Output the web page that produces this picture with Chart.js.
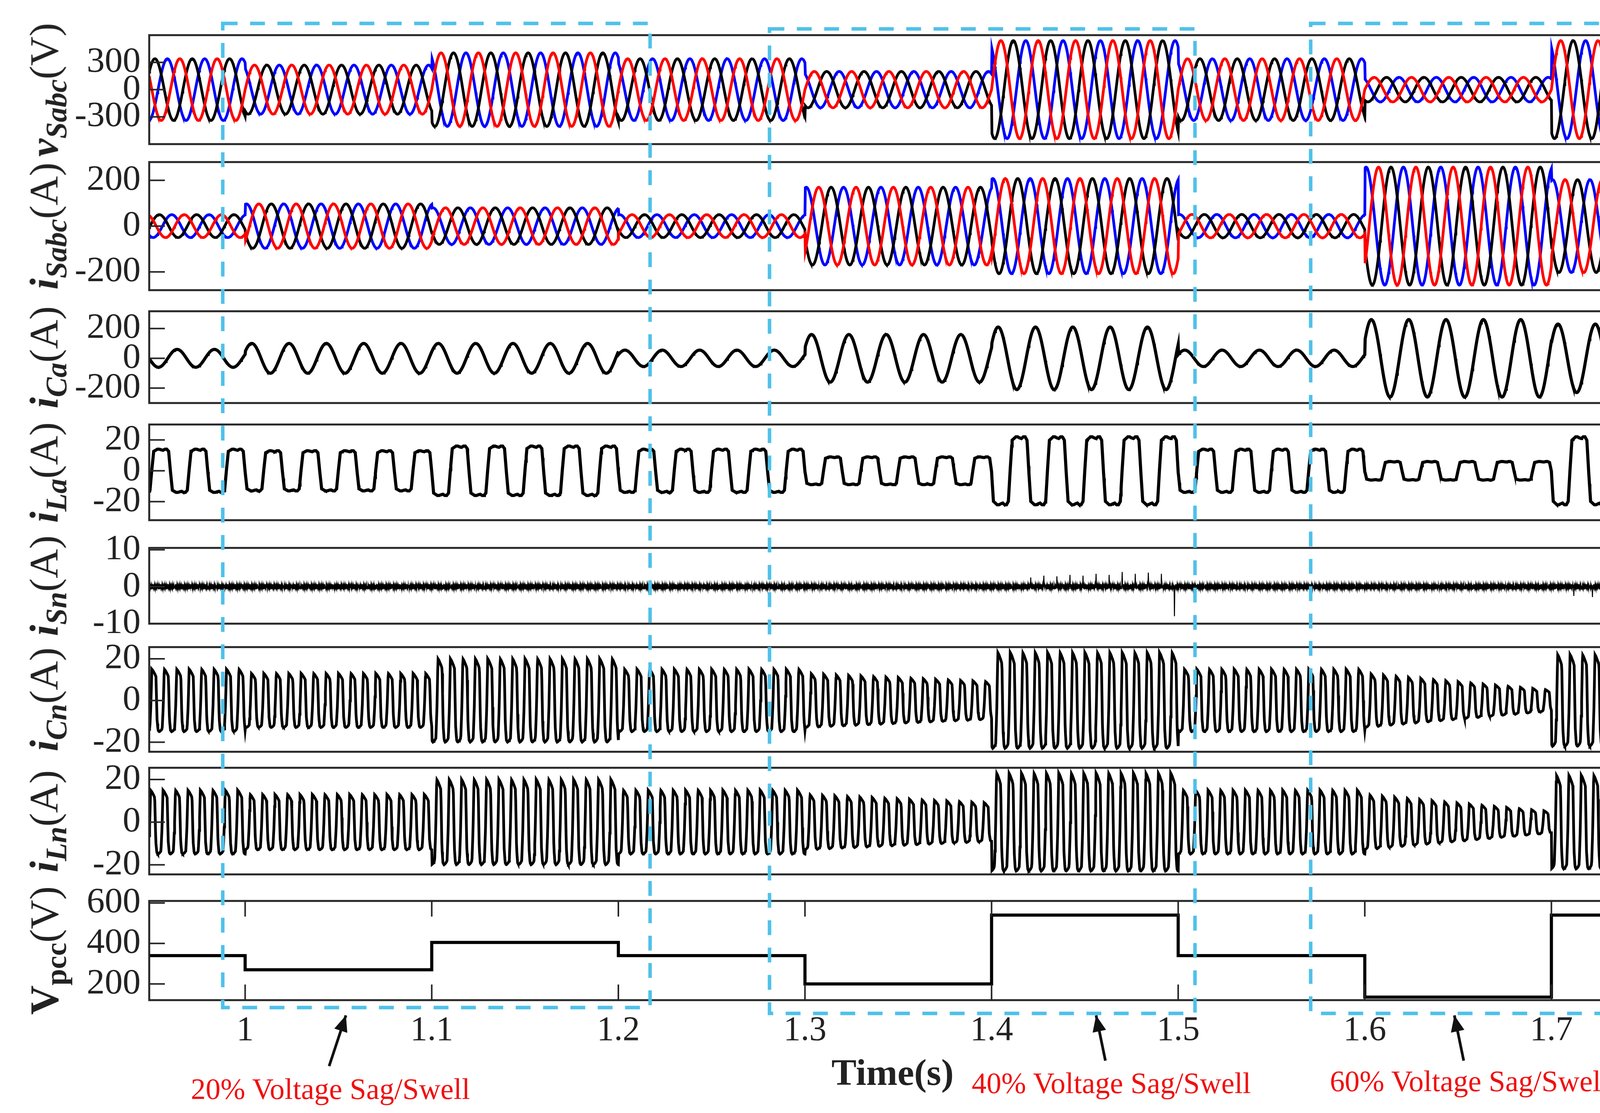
<!DOCTYPE html>
<html><head><meta charset="utf-8">
<script src="https://cdn.jsdelivr.net/npm/chart.js@4.4.1/dist/chart.umd.min.js"></script>
<style>
body{margin:0;background:#fff;width:4259px;height:2850px;position:relative;overflow:hidden;font-family:"Liberation Serif",serif}
canvas{position:absolute}
.yl{position:absolute;transform:translate(-50%,-50%) rotate(-90deg);white-space:nowrap;font-size:104px;color:#222;font-family:"Liberation Serif",serif}
.yl b{font-style:italic}
.yl sub{font-size:76px;font-weight:bold;font-style:italic}
.rt{position:absolute;transform:translateX(-50%);color:#f01010;font-size:76px;white-space:nowrap;font-family:"Liberation Serif",serif}
</style></head><body>
<script>
// ---- data ----
const segEdges = [0.9486,1.0,1.1,1.2,1.3,1.4,1.5,1.6,1.7,1.75];
const vpccLevels = [340,270,405,340,200,540,340,135,540];
const vSabcAmp = [340,270,405,340,200,540,340,135,540];
const iSabcAmp = [50,97,80,50,170,208,51,258,203];
const iCaAmp = [60,100,100,55,160,210,55,260,230];
const iLaAmp = [14,13,16,14,9,22,14,6,22];
const iCnStart = [15,13,20,15,13,23,15,13,22];
const iCnEnd = [15,13,20,15,9,23,15,5,22];
const iLnStart = [15,13,20,15,13,23,15,13,22];
const iLnEnd = [15,13,20,15,9,23,15,5,22];
const iLaShape = [0.05,0.9,0.95,1.0,1.0,0.97,0.95,1.0,1.0,0.9,-0.05,-0.9,-0.95,-1,-1,-0.97,-0.95,-1,-1,-0.9];
const iNShape = [1.0,0.96,0.9,0.84,0.76,-0.6,-0.95,-1.0,-0.98,-0.95,-0.9,-0.2];
const iSnNoise = [0.4,-0.3,0.6,-0.5,0.2,-0.7,0.5,-0.2,0.3,-0.6,0.7,-0.4,0.1,-0.5,0.6,-0.3,0.45,-0.65,0.25,-0.35];
const iSnSpikes = [[1.421,2.5],[1.428,3],[1.435,2.8],[1.442,3.2],[1.449,3],[1.456,3.5],[1.463,3.2],[1.47,4],[1.477,3.5],[1.484,3.8],[1.491,3.5],[1.498,-8],[1.712,-2.5],[1.722,-2.8],[1.735,-2.6],[1.742,3]];
const xTicks = [1,1.1,1.2,1.3,1.4,1.5,1.6,1.7];
const f0 = 50, f3 = 150, dt = 0.0002;
const xMin = 0.9486, xMax = 1.743;

function seg(t){for(let i=0;i<segEdges.length-2;i++){if(t<segEdges[i+1])return i;}return segEdges.length-2;}
function frac(t,i){return (t-segEdges[i])/(segEdges[i+1]-segEdges[i]);}
function shapeAt(sh,ph){ph=((ph%1)+1)%1;const p=ph*sh.length;const k=Math.floor(p),r=p-k;return sh[k]*(1-r)+sh[(k+1)%sh.length]*r;}
const T=[];for(let t=xMin;t<=xMax;t+=dt)T.push(t);
const mk=fn=>T.map(t=>({x:t,y:fn(t)}));
const W=2*Math.PI*f0;
const ph=[0,-2*Math.PI/3,2*Math.PI/3];
const vS=ph.map(p=>mk(t=>vSabcAmp[seg(t)]*Math.sin(W*(t-0.95)+Math.PI+p)));
const iS=ph.map(p=>mk(t=>iSabcAmp[seg(t)]*Math.sin(W*(t-0.95)+2.4+p)));
const iCa=mk(t=>iCaAmp[seg(t)]*Math.sin(W*(t-0.95)+3.6));
const iLa=mk(t=>iLaAmp[seg(t)]*shapeAt(iLaShape,(t-0.95)*f0));
const iSn=T.map((t,k)=>{let y=iSnNoise[k%iSnNoise.length];for(const s of iSnSpikes){if(Math.abs(t-s[0])<dt*0.6)y=s[1];}return {x:t,y};});
const ramp=(a,b)=>t=>{const i=seg(t),r=Math.min(1,Math.max(0,frac(t,i)));return a[i]+(b[i]-a[i])*r;};
const cA=ramp(iCnStart,iCnEnd), lA=ramp(iLnStart,iLnEnd);
const iCn=mk(t=>cA(t)*shapeAt(iNShape,(t-0.95)*f3));
const iLn=mk(t=>lA(t)*shapeAt(iNShape,(t-0.95)*f3+0.1));
const vp=[];for(let i=0;i<vpccLevels.length;i++){vp.push({x:Math.max(segEdges[i],xMin),y:vpccLevels[i]});vp.push({x:Math.min(segEdges[i+1],xMax),y:vpccLevels[i]});}

// ---- layout ----
const L=382,R=4177;
const panels=[
 {top:90,bot:369,min:-600,max:600,ticks:[-300,0,300],ds:[[vS[0],'#ff0000'],[vS[1],'#000'],[vS[2],'#0000ff']],lw:7,lab:'<b>v</b><sub>Sabc</sub>(V)'},
 {top:415,bot:743,min:-280,max:280,ticks:[-200,0,200],ds:[[iS[0],'#ff0000'],[iS[1],'#000'],[iS[2],'#0000ff']],lw:7,lab:'<b>i</b><sub>Sabc</sub>(A)'},
 {top:797,bot:1032,min:-300,max:316,ticks:[-200,0,200],ds:[[iCa,'#000']],lw:8,lab:'<b>i</b><sub>Ca</sub>(A)'},
 {top:1087,bot:1332,min:-32,max:30,ticks:[-20,0,20],ds:[[iLa,'#000']],lw:8,lab:'<b>i</b><sub>La</sub>(A)'},
 {top:1403,bot:1597,min:-10,max:10.5,ticks:[-10,0,10],ds:[[iSn,'#000']],lw:2.5,lab:'<b>i</b><sub>Sn</sub>(A)'},
 {top:1657,bot:1925,min:-24.6,max:25.6,ticks:[-20,0,20],ds:[[iCn,'#000']],lw:7,lab:'<b>i</b><sub>Cn</sub>(A)'},
 {top:1966,bot:2239,min:-24.5,max:25.5,ticks:[-20,0,20],ds:[[iLn,'#000']],lw:7,lab:'<b>i</b><sub>Ln</sub>(A)'},
 {top:2307,bot:2561,min:120,max:610,ticks:[200,400,600],ds:[[vp,'#000']],lw:8,lab:'<b style="font-style:normal">V</b><sub style="font-style:normal">pcc</sub>(V)',last:true}
];
const PAD=70,XH=150;
const frame={id:'frame',afterDraw(c){const a=c.chartArea,x=c.ctx;x.save();x.strokeStyle='#262626';x.lineWidth=5;
 x.strokeRect(a.left,a.top,a.right-a.left,a.bottom-a.top);
 const y=c.scales.y;x.lineWidth=4;
 y.ticks.forEach(tk=>{const p=y.getPixelForValue(tk.value);x.beginPath();x.moveTo(a.left,p);x.lineTo(a.left+40,p);x.moveTo(a.right,p);x.lineTo(a.right-40,p);x.stroke();});
 if(c.options.isLast){const s=c.scales.x;s.ticks.forEach(tk=>{const p=s.getPixelForValue(tk.value);x.beginPath();x.moveTo(p,a.bottom);x.lineTo(p,a.bottom-40);x.moveTo(p,a.top);x.lineTo(p,a.top+40);x.stroke();});}
 x.restore();}};
const charts=[];
panels.forEach((p,idx)=>{
 const cv=document.createElement('canvas');
 const h=(p.bot-p.top)+2*PAD+(p.last?XH:0);
 cv.width=4259;cv.height=h;
 cv.style.left='0px';cv.style.top=(p.top-PAD)+'px';cv.style.width='4259px';cv.style.height=h+'px';
 document.body.appendChild(cv);
 const yl=document.createElement('div');yl.className='yl';yl.innerHTML=p.lab;yl.style.left='120px';yl.style.top=((p.top+p.bot)/2)+'px';document.body.appendChild(yl);
 charts.push(new Chart(cv,{type:'line',
  data:{datasets:p.ds.map(d=>({data:d[0],borderColor:d[1],borderWidth:p.lw,pointRadius:0,tension:0,fill:false}))},
  plugins:[frame],
  options:{isLast:!!p.last,animation:false,responsive:false,maintainAspectRatio:false,devicePixelRatio:1,parsing:false,normalized:true,events:[],
   layout:{padding:{top:PAD,bottom:PAD,left:0,right:4259-R}},
   plugins:{legend:{display:false},tooltip:{enabled:false}},
   scales:{
    x:{type:'linear',min:xMin,max:xMax,display:!!p.last,border:{display:false},grid:{display:false},
      afterBuildTicks:s=>{s.ticks=xTicks.map(v=>({value:v}));},
      afterFit:s=>{s.height=p.last?XH:0;},
      ticks:{color:'#222',font:{family:'Liberation Serif',size:88},padding:18,callback:v=>String(v)}},
    y:{min:p.min,max:p.max,border:{display:false},grid:{display:false},
      afterBuildTicks:s=>{s.ticks=p.ticks.map(v=>({value:v}));},
      afterFit:s=>{s.width=L;},
      ticks:{color:'#222',font:{family:'Liberation Serif',size:92},padding:14,autoSkip:false}}
   }}}));
});
const ov=document.createElement('canvas');ov.width=4259;ov.height=2850;ov.style.left='0';ov.style.top='0';ov.style.width='4259px';ov.style.height='2850px';document.body.appendChild(ov);
const last=charts[charts.length-1],sx=last.scales.x;
const boxes=[[0.988,1.217,60,2580],[1.281,1.509,74,2595],[1.571,1.752,60,2595]];
const g=ov.getContext('2d');g.strokeStyle='#4FC1E9';g.lineWidth=9;g.setLineDash([38,32]);
boxes.forEach(b=>{const x1=sx.getPixelForValue(b[0]),x2=sx.getPixelForValue(b[1]);g.strokeRect(x1,b[2],x2-x1,b[3]-b[2]);});
g.setLineDash([]);g.strokeStyle='#111';g.fillStyle='#111';g.lineWidth=7;
const arrows=[[[1.045,2730],[1.054,2600]],[[1.461,2716],[1.456,2600]],[[1.653,2716],[1.648,2600]]];
arrows.forEach(a=>{const x1=sx.getPixelForValue(a[0][0]),y1=a[0][1],x2=sx.getPixelForValue(a[1][0]),y2=a[1][1];
 g.beginPath();g.moveTo(x1,y1);g.lineTo(x2,y2);g.stroke();
 const an=Math.atan2(y2-y1,x2-x1),L2=45,w=0.4;g.beginPath();g.moveTo(x2,y2);g.lineTo(x2-L2*Math.cos(an-w),y2-L2*Math.sin(an-w));g.lineTo(x2-L2*Math.cos(an+w),y2-L2*Math.sin(an+w));g.closePath();g.fill();});
const texts=[['20% Voltage Sag/Swell',846,2745],['40% Voltage Sag/Swell',2845,2730],['60% Voltage Sag/Swell',3762,2725]];
texts.forEach(t=>{const d=document.createElement('div');d.className='rt';d.textContent=t[0];d.style.left=t[1]+'px';d.style.top=t[2]+'px';document.body.appendChild(d);});
const tt=document.createElement('div');tt.style.cssText='position:absolute;left:2285px;top:2690px;transform:translateX(-50%);font-weight:bold;font-size:96px;color:#222';tt.textContent='Time(s)';document.body.appendChild(tt);
</script></body></html>
